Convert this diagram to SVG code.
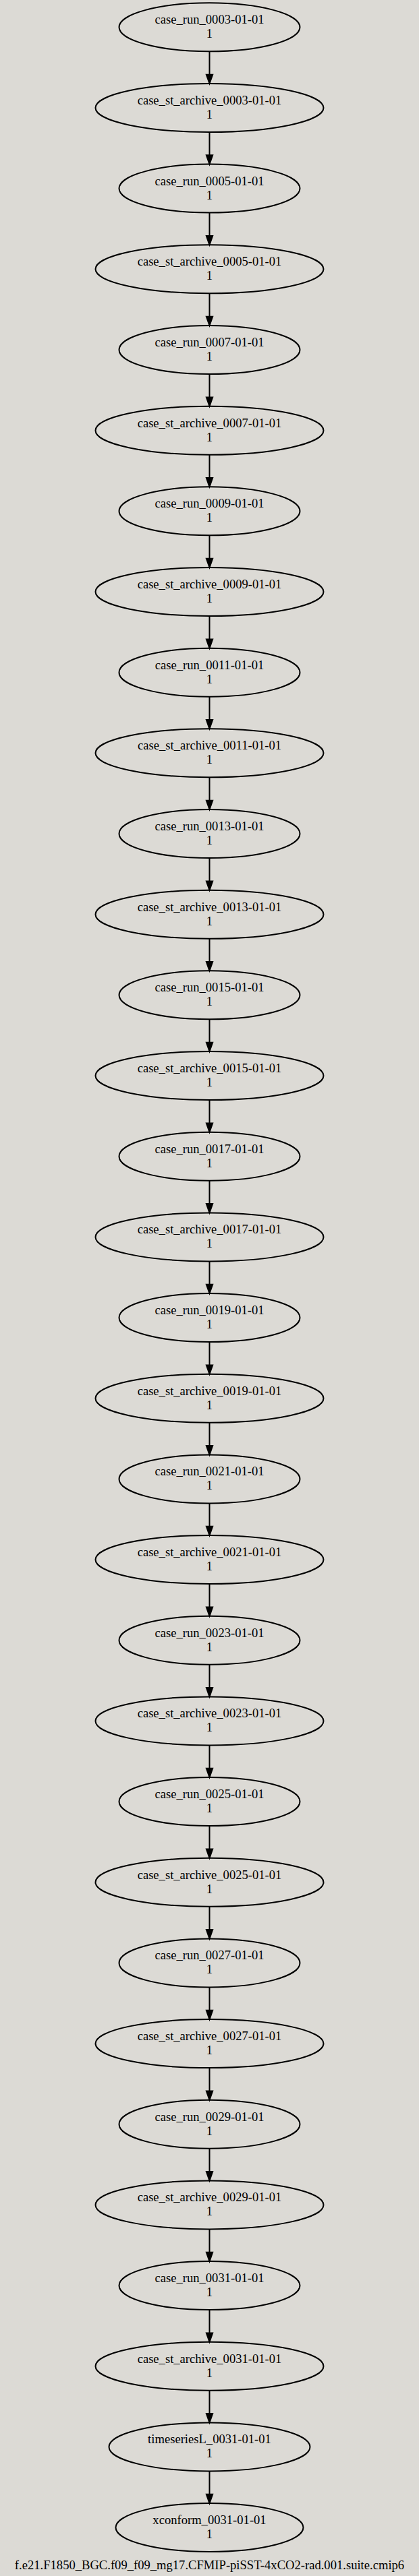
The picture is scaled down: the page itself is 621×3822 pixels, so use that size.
<svg xmlns="http://www.w3.org/2000/svg" width="621" height="3822" viewBox="0 0 621 3822">
<style>
.bg{fill:#dcdad5}
.n ellipse{fill:none;stroke:#000;stroke-width:2}
.n text,.title{font-family:"Liberation Serif","Times New Roman",serif;font-size:18.6px;fill:#000;text-anchor:middle}
.e path{fill:none;stroke:#000;stroke-width:2}
.e polygon{fill:#000;stroke:#000;stroke-width:2}
</style>
<rect class="bg" x="0" y="0" width="621" height="3822"/>
<g id="connectors" class="e">
<path d="M310.5,76.3V110.7"/><polygon points="310.5,124.0 305.85,110.7 315.15,110.7"/>
<path d="M310.5,196.0V230.3"/><polygon points="310.5,243.6 305.85,230.3 315.15,230.3"/>
<path d="M310.5,315.6V350.0"/><polygon points="310.5,363.3 305.85,350.0 315.15,350.0"/>
<path d="M310.5,435.3V469.7"/><polygon points="310.5,483.0 305.85,469.7 315.15,469.7"/>
<path d="M310.5,555.0V589.4"/><polygon points="310.5,602.7 305.85,589.4 315.15,589.4"/>
<path d="M310.5,674.7V709.0"/><polygon points="310.5,722.3 305.85,709.0 315.15,709.0"/>
<path d="M310.5,794.3V828.7"/><polygon points="310.5,842.0 305.85,828.7 315.15,828.7"/>
<path d="M310.5,914.0V948.4"/><polygon points="310.5,961.7 305.85,948.4 315.15,948.4"/>
<path d="M310.5,1033.7V1068.0"/><polygon points="310.5,1081.3 305.85,1068.0 315.15,1068.0"/>
<path d="M310.5,1153.3V1187.7"/><polygon points="310.5,1201.0 305.85,1187.7 315.15,1187.7"/>
<path d="M310.5,1273.0V1307.4"/><polygon points="310.5,1320.7 305.85,1307.4 315.15,1307.4"/>
<path d="M310.5,1392.7V1427.0"/><polygon points="310.5,1440.3 305.85,1427.0 315.15,1427.0"/>
<path d="M310.5,1512.3V1546.7"/><polygon points="310.5,1560.0 305.85,1546.7 315.15,1546.7"/>
<path d="M310.5,1632.0V1666.4"/><polygon points="310.5,1679.7 305.85,1666.4 315.15,1666.4"/>
<path d="M310.5,1751.7V1786.1"/><polygon points="310.5,1799.4 305.85,1786.1 315.15,1786.1"/>
<path d="M310.5,1871.4V1905.7"/><polygon points="310.5,1919.0 305.85,1905.7 315.15,1905.7"/>
<path d="M310.5,1991.0V2025.4"/><polygon points="310.5,2038.7 305.85,2025.4 315.15,2025.4"/>
<path d="M310.5,2110.7V2145.1"/><polygon points="310.5,2158.4 305.85,2145.1 315.15,2145.1"/>
<path d="M310.5,2230.4V2264.7"/><polygon points="310.5,2278.0 305.85,2264.7 315.15,2264.7"/>
<path d="M310.5,2350.0V2384.4"/><polygon points="310.5,2397.7 305.85,2384.4 315.15,2384.4"/>
<path d="M310.5,2469.7V2504.1"/><polygon points="310.5,2517.4 305.85,2504.1 315.15,2504.1"/>
<path d="M310.5,2589.4V2623.7"/><polygon points="310.5,2637.0 305.85,2623.7 315.15,2623.7"/>
<path d="M310.5,2709.0V2743.4"/><polygon points="310.5,2756.7 305.85,2743.4 315.15,2743.4"/>
<path d="M310.5,2828.7V2863.1"/><polygon points="310.5,2876.4 305.85,2863.1 315.15,2863.1"/>
<path d="M310.5,2948.4V2982.8"/><polygon points="310.5,2996.1 305.85,2982.8 315.15,2982.8"/>
<path d="M310.5,3068.1V3102.4"/><polygon points="310.5,3115.7 305.85,3102.4 315.15,3102.4"/>
<path d="M310.5,3187.7V3222.1"/><polygon points="310.5,3235.4 305.85,3222.1 315.15,3222.1"/>
<path d="M310.5,3307.4V3341.8"/><polygon points="310.5,3355.1 305.85,3341.8 315.15,3341.8"/>
<path d="M310.5,3427.1V3461.4"/><polygon points="310.5,3474.7 305.85,3461.4 315.15,3461.4"/>
<path d="M310.5,3546.7V3581.1"/><polygon points="310.5,3594.4 305.85,3581.1 315.15,3581.1"/>
<path d="M310.5,3666.4V3700.8"/><polygon points="310.5,3714.1 305.85,3700.8 315.15,3700.8"/>
</g>
<g id="case_run_0003" class="n" transform="translate(310.5,40.3)"><ellipse rx="134" ry="36"/><text y="-5">case_run_0003-01-01</text><text y="16">1</text></g>
<g id="case_st_archive_0003" class="n" transform="translate(310.5,160.0)"><ellipse rx="169" ry="36"/><text y="-5">case_st_archive_0003-01-01</text><text y="16">1</text></g>
<g id="case_run_0005" class="n" transform="translate(310.5,279.6)"><ellipse rx="134" ry="36"/><text y="-5">case_run_0005-01-01</text><text y="16">1</text></g>
<g id="case_st_archive_0005" class="n" transform="translate(310.5,399.3)"><ellipse rx="169" ry="36"/><text y="-5">case_st_archive_0005-01-01</text><text y="16">1</text></g>
<g id="case_run_0007" class="n" transform="translate(310.5,519.0)"><ellipse rx="134" ry="36"/><text y="-5">case_run_0007-01-01</text><text y="16">1</text></g>
<g id="case_st_archive_0007" class="n" transform="translate(310.5,638.7)"><ellipse rx="169" ry="36"/><text y="-5">case_st_archive_0007-01-01</text><text y="16">1</text></g>
<g id="case_run_0009" class="n" transform="translate(310.5,758.3)"><ellipse rx="134" ry="36"/><text y="-5">case_run_0009-01-01</text><text y="16">1</text></g>
<g id="case_st_archive_0009" class="n" transform="translate(310.5,878.0)"><ellipse rx="169" ry="36"/><text y="-5">case_st_archive_0009-01-01</text><text y="16">1</text></g>
<g id="case_run_0011" class="n" transform="translate(310.5,997.7)"><ellipse rx="134" ry="36"/><text y="-5">case_run_0011-01-01</text><text y="16">1</text></g>
<g id="case_st_archive_0011" class="n" transform="translate(310.5,1117.3)"><ellipse rx="169" ry="36"/><text y="-5">case_st_archive_0011-01-01</text><text y="16">1</text></g>
<g id="case_run_0013" class="n" transform="translate(310.5,1237.0)"><ellipse rx="134" ry="36"/><text y="-5">case_run_0013-01-01</text><text y="16">1</text></g>
<g id="case_st_archive_0013" class="n" transform="translate(310.5,1356.7)"><ellipse rx="169" ry="36"/><text y="-5">case_st_archive_0013-01-01</text><text y="16">1</text></g>
<g id="case_run_0015" class="n" transform="translate(310.5,1476.3)"><ellipse rx="134" ry="36"/><text y="-5">case_run_0015-01-01</text><text y="16">1</text></g>
<g id="case_st_archive_0015" class="n" transform="translate(310.5,1596.0)"><ellipse rx="169" ry="36"/><text y="-5">case_st_archive_0015-01-01</text><text y="16">1</text></g>
<g id="case_run_0017" class="n" transform="translate(310.5,1715.7)"><ellipse rx="134" ry="36"/><text y="-5">case_run_0017-01-01</text><text y="16">1</text></g>
<g id="case_st_archive_0017" class="n" transform="translate(310.5,1835.4)"><ellipse rx="169" ry="36"/><text y="-5">case_st_archive_0017-01-01</text><text y="16">1</text></g>
<g id="case_run_0019" class="n" transform="translate(310.5,1955.0)"><ellipse rx="134" ry="36"/><text y="-5">case_run_0019-01-01</text><text y="16">1</text></g>
<g id="case_st_archive_0019" class="n" transform="translate(310.5,2074.7)"><ellipse rx="169" ry="36"/><text y="-5">case_st_archive_0019-01-01</text><text y="16">1</text></g>
<g id="case_run_0021" class="n" transform="translate(310.5,2194.4)"><ellipse rx="134" ry="36"/><text y="-5">case_run_0021-01-01</text><text y="16">1</text></g>
<g id="case_st_archive_0021" class="n" transform="translate(310.5,2314.0)"><ellipse rx="169" ry="36"/><text y="-5">case_st_archive_0021-01-01</text><text y="16">1</text></g>
<g id="case_run_0023" class="n" transform="translate(310.5,2433.7)"><ellipse rx="134" ry="36"/><text y="-5">case_run_0023-01-01</text><text y="16">1</text></g>
<g id="case_st_archive_0023" class="n" transform="translate(310.5,2553.4)"><ellipse rx="169" ry="36"/><text y="-5">case_st_archive_0023-01-01</text><text y="16">1</text></g>
<g id="case_run_0025" class="n" transform="translate(310.5,2673.0)"><ellipse rx="134" ry="36"/><text y="-5">case_run_0025-01-01</text><text y="16">1</text></g>
<g id="case_st_archive_0025" class="n" transform="translate(310.5,2792.7)"><ellipse rx="169" ry="36"/><text y="-5">case_st_archive_0025-01-01</text><text y="16">1</text></g>
<g id="case_run_0027" class="n" transform="translate(310.5,2912.4)"><ellipse rx="134" ry="36"/><text y="-5">case_run_0027-01-01</text><text y="16">1</text></g>
<g id="case_st_archive_0027" class="n" transform="translate(310.5,3032.1)"><ellipse rx="169" ry="36"/><text y="-5">case_st_archive_0027-01-01</text><text y="16">1</text></g>
<g id="case_run_0029" class="n" transform="translate(310.5,3151.7)"><ellipse rx="134" ry="36"/><text y="-5">case_run_0029-01-01</text><text y="16">1</text></g>
<g id="case_st_archive_0029" class="n" transform="translate(310.5,3271.4)"><ellipse rx="169" ry="36"/><text y="-5">case_st_archive_0029-01-01</text><text y="16">1</text></g>
<g id="case_run_0031" class="n" transform="translate(310.5,3391.1)"><ellipse rx="134" ry="36"/><text y="-5">case_run_0031-01-01</text><text y="16">1</text></g>
<g id="case_st_archive_0031" class="n" transform="translate(310.5,3510.7)"><ellipse rx="169" ry="36"/><text y="-5">case_st_archive_0031-01-01</text><text y="16">1</text></g>
<g id="timeseriesL_0031" class="n" transform="translate(310.5,3630.4)"><ellipse rx="149" ry="36"/><text y="-5">timeseriesL_0031-01-01</text><text y="16">1</text></g>
<g id="xconform_0031" class="n" transform="translate(310.5,3750.1)"><ellipse rx="139" ry="36"/><text y="-5">xconform_0031-01-01</text><text y="16">1</text></g>
<text class="title" x="310.5" y="3811.7">f.e21.F1850_BGC.f09_f09_mg17.CFMIP-piSST-4xCO2-rad.001.suite.cmip6</text>
</svg>
